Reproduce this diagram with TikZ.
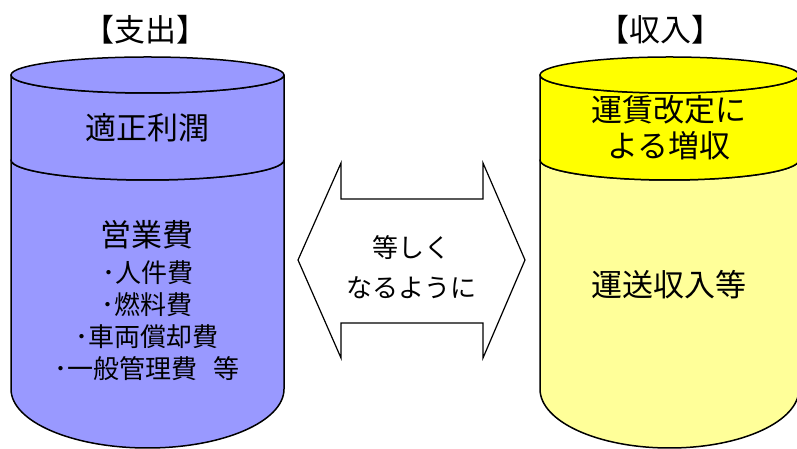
\documentclass[tikz,border=0pt]{standalone}
\usepackage{fontspec}
\setmainfont{Noto Sans CJK JP}
\usepackage{xcolor}
\definecolor{costblue}{RGB}{153,153,255}
\definecolor{fareyellow}{RGB}{255,255,0}
\definecolor{paleyellow}{RGB}{255,255,153}
\usetikzlibrary{calc}
\newcommand{\bigtext}{\fontsize{31}{36}\selectfont}
\newcommand{\smalltext}{\fontsize{26}{32}\selectfont}
\newcommand{\midtext}{\fontsize{26}{40}\selectfont}
% drum: centre x, x radius, upper colour, lower colour
\newcommand{\drum}[4]{
    \path[drum, fill=#4] (#1-#2,289) -- (#1-#2,60)
        arc[start angle=180, end angle=360, x radius=#2, y radius=59]
        -- (#1+#2,289)
        arc[start angle=0, end angle=-180, x radius=#2, y radius=20] -- cycle;
    \path[drum, fill=#3] (#1-#2,374) -- (#1-#2,289)
        arc[start angle=180, end angle=360, x radius=#2, y radius=20]
        -- (#1+#2,374)
        arc[start angle=0, end angle=-180, x radius=#2, y radius=18] -- cycle;
    \path[drum, fill=#3] (#1,374) ellipse[x radius=#2, y radius=18];
}
\tikzset{
    drum/.style={draw, line width=1.5pt, line join=round},
    heading/.style={font=\bigtext, inner sep=0pt},
    big/.style={font=\bigtext, align=center, inner sep=0pt},
    item/.style={font=\smalltext, inner sep=0pt},
    eqarrow/.style={draw, fill=white, line width=1.2pt, line join=miter}
}
\begin{document}
\begin{tikzpicture}[x=1pt, y=1pt]
    \useasboundingbox (0,0) rectangle (797,449);
    \clip (0,0) rectangle (797,449);

    \drum{147.5}{136.5}{costblue}{costblue}
    \drum{669.5}{129.5}{fareyellow}{paleyellow}

    \node[heading] (head-out) at (145,419) {【支出】};
    \node[heading] (head-in) at (660,419) {【収入】};

    \node[big] (profit) at (147,321) {適正利潤};
    \node[big] (opcost) at (147,214) {営業費};
    \node[item] (staff) at (148,176) {･人件費};
    \node[item] (fuel) at (147,144) {･燃料費};
    \node[item] (deprec) at (147,112) {･車両償却費};
    \node[item] (admin) at (147,80) {･一般管理費\hspace{0.6em}等};

    \node[big] (fare-up) at (669,321) {運賃改定に\\よる増収};
    \node[big] (revenue) at (669,164) {運送収入等};

    % equality arrow
    \coordinate (eq-west) at (298,189);
    \coordinate (eq-east) at (525,189);
    \draw[eqarrow] (eq-west) -- (341,286) -- (341,250) -- (483,250) -- (483,286)
        -- (eq-east) -- (483,91) -- (483,126) -- (341,126) -- (341,91) -- cycle;
    \node[font=\midtext, align=center, inner sep=0pt] (equal) at (411.5,182) {等しく\\なるように};
\end{tikzpicture}
\end{document}
